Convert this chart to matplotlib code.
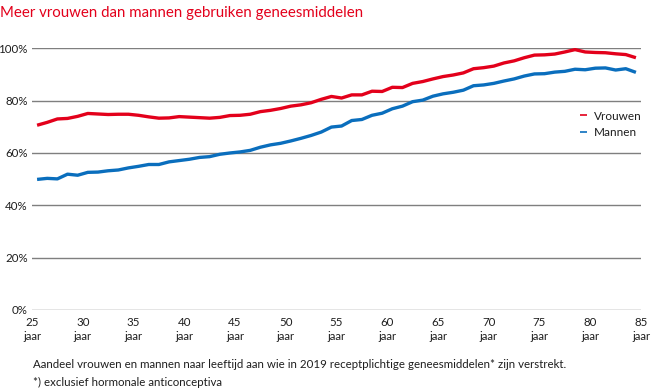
import matplotlib.pyplot as plt

# leeftijd (midden van het levensjaar) en aandeel met receptplichtige geneesmiddelen (%)
leeftijd = [a + 0.5 for a in range(25, 85)]

vrouwen = [70.6, 71.7, 73.0, 73.2, 74.0, 75.1, 74.9, 74.7, 74.8, 74.8,
           74.4, 73.8, 73.3, 73.4, 73.9, 73.7, 73.5, 73.3, 73.6, 74.3,
           74.4, 74.8, 75.8, 76.3, 77.0, 77.9, 78.4, 79.2, 80.5, 81.6,
           81.0, 82.2, 82.2, 83.6, 83.5, 85.1, 85.0, 86.6, 87.3, 88.3,
           89.2, 89.8, 90.6, 92.2, 92.6, 93.2, 94.4, 95.2, 96.4, 97.4,
           97.5, 97.8, 98.6, 99.5, 98.6, 98.4, 98.3, 97.9, 97.6, 96.4]

mannen = [49.9, 50.3, 50.1, 51.9, 51.5, 52.6, 52.7, 53.2, 53.5, 54.3,
          54.9, 55.6, 55.6, 56.6, 57.1, 57.6, 58.3, 58.6, 59.5, 60.0,
          60.4, 61.0, 62.2, 63.1, 63.7, 64.6, 65.6, 66.7, 68.0, 69.9,
          70.3, 72.4, 72.8, 74.4, 75.2, 76.9, 77.9, 79.6, 80.2, 81.7,
          82.6, 83.2, 84.0, 85.7, 86.0, 86.6, 87.5, 88.3, 89.4, 90.2,
          90.3, 90.9, 91.2, 92.0, 91.8, 92.4, 92.5, 91.7, 92.2, 90.8]

x_ticks = list(range(25, 90, 5))
x_labels = ['%d\njaar' % t for t in x_ticks]
y_ticks = [0, 20, 40, 60, 80, 100]
y_labels = ['%d%%' % t for t in y_ticks]

rood = '#e3001b'
blauw = '#0a6ebd'
grijs = '#7f7f7f'
tekst = '#1e1e1e'

plt.rcParams['font.family'] = ['Lato', 'DejaVu Sans']

fig = plt.figure(figsize=(6.51, 3.90), dpi=100)
ax = fig.add_axes([32 / 651, 80 / 390, 609 / 651, 261.7 / 390])

ax.plot(leeftijd, vrouwen, color=rood, lw=2.4, label='Vrouwen', solid_capstyle='butt')
ax.plot(leeftijd, mannen, color=blauw, lw=2.4, label='Mannen', solid_capstyle='butt')

ax.set_xlim(25, 85)
ax.set_ylim(0, 100)
ax.set_yticks(y_ticks)
ax.set_yticklabels(y_labels)
ax.set_xticks(x_ticks)
ax.set_xticklabels(x_labels, linespacing=1.3)
ax.grid(axis='y', color=grijs, lw=1)
ax.set_axisbelow(True)
for s in ax.spines.values():
    s.set_visible(False)
ax.tick_params(axis='both', length=0, labelsize=8.3, colors=tekst)
ax.tick_params(axis='y', pad=3)
ax.tick_params(axis='x', pad=5)

leg = ax.legend(loc='upper left', bbox_to_anchor=(543 / 609, 0.78), frameon=False,
                handlelength=0.6, handletextpad=0.6, labelspacing=0.45,
                fontsize=8.5, borderaxespad=0)
for t in leg.get_texts():
    t.set_color(tekst)
for h in leg.get_lines():
    h.set_linewidth(1.2)

fig.text(0, 1 - 13 / 390, 'Meer vrouwen dan mannen gebruiken geneesmiddelen',
         color=rood, fontsize=10.8, fontweight='normal', va='center', ha='left')
fig.text(33 / 651, 1 - 364 / 390,
         'Aandeel vrouwen en mannen naar leeftijd aan wie in 2019 receptplichtige geneesmiddelen* zijn verstrekt.',
         color=tekst, fontsize=8.3, va='center', ha='left')
fig.text(33 / 651, 1 - 382 / 390, '*) exclusief hormonale anticonceptiva',
         color=tekst, fontsize=8.3, va='center', ha='left')

plt.savefig('out.png', dpi=100)
